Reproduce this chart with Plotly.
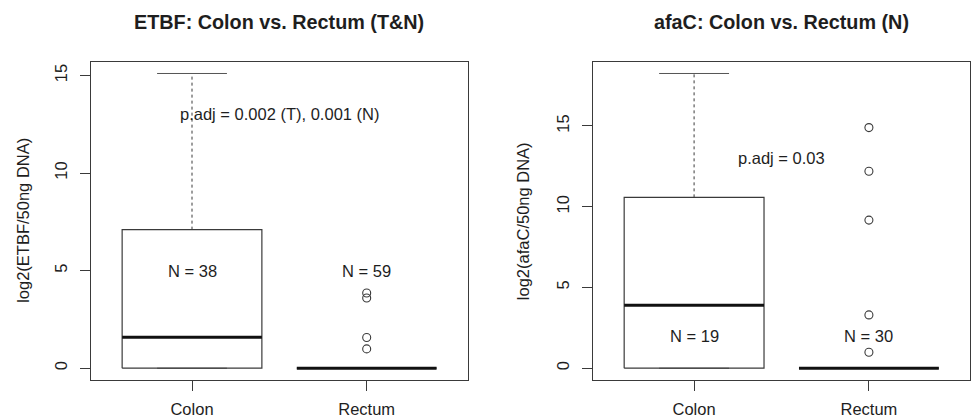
import plotly.graph_objects as go

# ---------------- data ----------------
categories = ["Colon", "Rectum"]

# ETBF panel (log2 ETBF / 50ng DNA)
etbf_lower = [0.0, 0.0]
etbf_q1 = [0.0, 0.0]
etbf_median = [1.59, 0.0]
etbf_q3 = [7.1, 0.0]
etbf_upper = [15.1, 0.0]
etbf_outliers_rectum = [3.85, 3.6, 1.57, 0.99]
etbf_n = [38, 59]
etbf_n_y = [5.0, 5.0]
etbf_padj = "p.adj = 0.002 (T), 0.001 (N)"
etbf_padj_y = 13.0

# afaC panel (log2 afaC / 50ng DNA)
afac_lower = [0.0, 0.0]
afac_q1 = [0.0, 0.0]
afac_median = [3.9, 0.0]
afac_q3 = [10.58, 0.0]
afac_upper = [18.25, 0.0]
afac_outliers_rectum = [14.9, 12.2, 9.17, 3.3, 0.99]
afac_n = [19, 30]
afac_n_y = [2.0, 2.0]
afac_padj = "p.adj = 0.03"
afac_padj_y = 13.0

titles = ["ETBF: Colon vs. Rectum (T&N)", "afaC: Colon vs. Rectum (N)"]
ytitles = ["log2(ETBF/50ng DNA)", "log2(afaC/50ng DNA)"]
yticks = [0, 5, 10, 15]

# ---------------- style ----------------
FONT = "Liberation Sans, Arial, Helvetica, sans-serif"
FS = 16.5
LINE = "#3a3a3a"
TXT = "#1e1e1e"
BOXW = 0.4      # half box width
CAPW = 0.2      # half staple width

W, H = 972, 419
dom_x = [[90.7 / W, 468.0 / W], [592.7 / W, 970.3 / W]]
dom_y = [(H - 380.0) / H, (H - 61.7) / H]

fig = go.Figure()

panels = [
    dict(lower=etbf_lower, q1=etbf_q1, med=etbf_median, q3=etbf_q3, upper=etbf_upper,
         out=etbf_outliers_rectum, n=etbf_n, ny=etbf_n_y, padj=etbf_padj, padjy=etbf_padj_y),
    dict(lower=afac_lower, q1=afac_q1, med=afac_median, q3=afac_q3, upper=afac_upper,
         out=afac_outliers_rectum, n=afac_n, ny=afac_n_y, padj=afac_padj, padjy=afac_padj_y),
]

annotations = []
for p_i, p in enumerate(panels):
    xa = "x" if p_i == 0 else "x2"
    ya = "y" if p_i == 0 else "y2"
    for g in range(2):
        c = g + 1
        # whiskers (dashed)
        fig.add_trace(go.Scatter(x=[c, c], y=[p["q3"][g], p["upper"][g]], mode="lines",
                                 line=dict(color=LINE, width=1, dash="3px,3px"),
                                 xaxis=xa, yaxis=ya, hoverinfo="skip", showlegend=False))
        fig.add_trace(go.Scatter(x=[c, c], y=[p["lower"][g], p["q1"][g]], mode="lines",
                                 line=dict(color=LINE, width=1, dash="3px,3px"),
                                 xaxis=xa, yaxis=ya, hoverinfo="skip", showlegend=False))
        # staples
        for v in (p["upper"][g], p["lower"][g]):
            fig.add_trace(go.Scatter(x=[c - CAPW, c + CAPW], y=[v, v], mode="lines",
                                     line=dict(color="#555555", width=1),
                                     xaxis=xa, yaxis=ya, hoverinfo="skip", showlegend=False))
        # box
        fig.add_trace(go.Scatter(x=[c - BOXW, c + BOXW, c + BOXW, c - BOXW, c - BOXW],
                                 y=[p["q1"][g], p["q1"][g], p["q3"][g], p["q3"][g], p["q1"][g]],
                                 mode="lines", line=dict(color=LINE, width=1.2),
                                 xaxis=xa, yaxis=ya, hoverinfo="skip", showlegend=False))
        # median
        fig.add_trace(go.Scatter(x=[c - BOXW, c + BOXW], y=[p["med"][g], p["med"][g]],
                                 mode="lines", line=dict(color="#111111", width=3),
                                 xaxis=xa, yaxis=ya, hoverinfo="skip", showlegend=False))
        # N labels
        annotations.append(dict(x=c, y=p["ny"][g], xref=xa, yref=ya, text=f"N = {p['n'][g]}",
                                showarrow=False, font=dict(family=FONT, size=FS, color=TXT),
                                xanchor="center", yanchor="middle"))
    # outliers (Rectum)
    fig.add_trace(go.Scatter(x=[2] * len(p["out"]), y=p["out"], mode="markers",
                             marker=dict(symbol="circle-open", size=8, color=LINE,
                                         line=dict(width=1.1, color=LINE)),
                             xaxis=xa, yaxis=ya, hoverinfo="skip", showlegend=False))
    annotations.append(dict(x=1.5, y=p["padjy"], xref=xa, yref=ya, text=p["padj"],
                            showarrow=False, font=dict(family=FONT, size=FS, color=TXT),
                            xanchor="center", yanchor="middle"))
    # title
    annotations.append(dict(x=sum(dom_x[p_i]) / 2, y=(H - 21.7) / H, xref="paper", yref="paper",
                            text=f"<b>{titles[p_i]}</b>", showarrow=False,
                            font=dict(family=FONT, size=19.8, color=TXT),
                            xanchor="center", yanchor="middle"))
    # y-axis title
    annotations.append(dict(x=(23.0 if p_i == 0 else 523.3) / W, y=sum(dom_y) / 2,
                            xref="paper", yref="paper", text=ytitles[p_i], textangle=-90,
                            showarrow=False, font=dict(family=FONT, size=FS, color=TXT),
                            xanchor="center", yanchor="middle"))

yranges = [[-0.604, 15.704], [-0.73, 18.98]]

common_x = dict(range=[0.42, 2.58], tickvals=[1, 2], ticktext=categories, ticks="outside",
                ticklen=10, tickcolor=LINE, tickwidth=1, showgrid=False, zeroline=False,
                showline=True, mirror=True, linecolor=LINE, linewidth=1.2,
                tickfont=dict(family=FONT, size=FS, color=TXT), fixedrange=True,
                ticklabelstandoff=4)
common_y = dict(tickvals=yticks, ticks="outside", ticklen=10, tickcolor=LINE, tickwidth=1,
                showgrid=False, zeroline=False, showline=True, mirror=True, linecolor=LINE,
                linewidth=1.2, tickangle=-90, tickfont=dict(family=FONT, size=FS, color=TXT),
                fixedrange=True, ticklabelstandoff=6)

fig.update_layout(
    width=W, height=H,
    margin=dict(l=0, r=0, t=0, b=0),
    paper_bgcolor="white", plot_bgcolor="white",
    showlegend=False,
    xaxis=dict(domain=dom_x[0], anchor="y", **common_x),
    yaxis=dict(domain=dom_y, anchor="x", range=yranges[0], **common_y),
    xaxis2=dict(domain=dom_x[1], anchor="y2", **common_x),
    yaxis2=dict(domain=dom_y, anchor="x2", range=yranges[1], **common_y),
    annotations=annotations,
)

fig.write_html(
    "out.html",
    config={"displayModeBar": False},
    post_script="document.body.style.margin='0';document.body.style.padding='0';"
                "document.body.style.overflow='hidden';",
)
